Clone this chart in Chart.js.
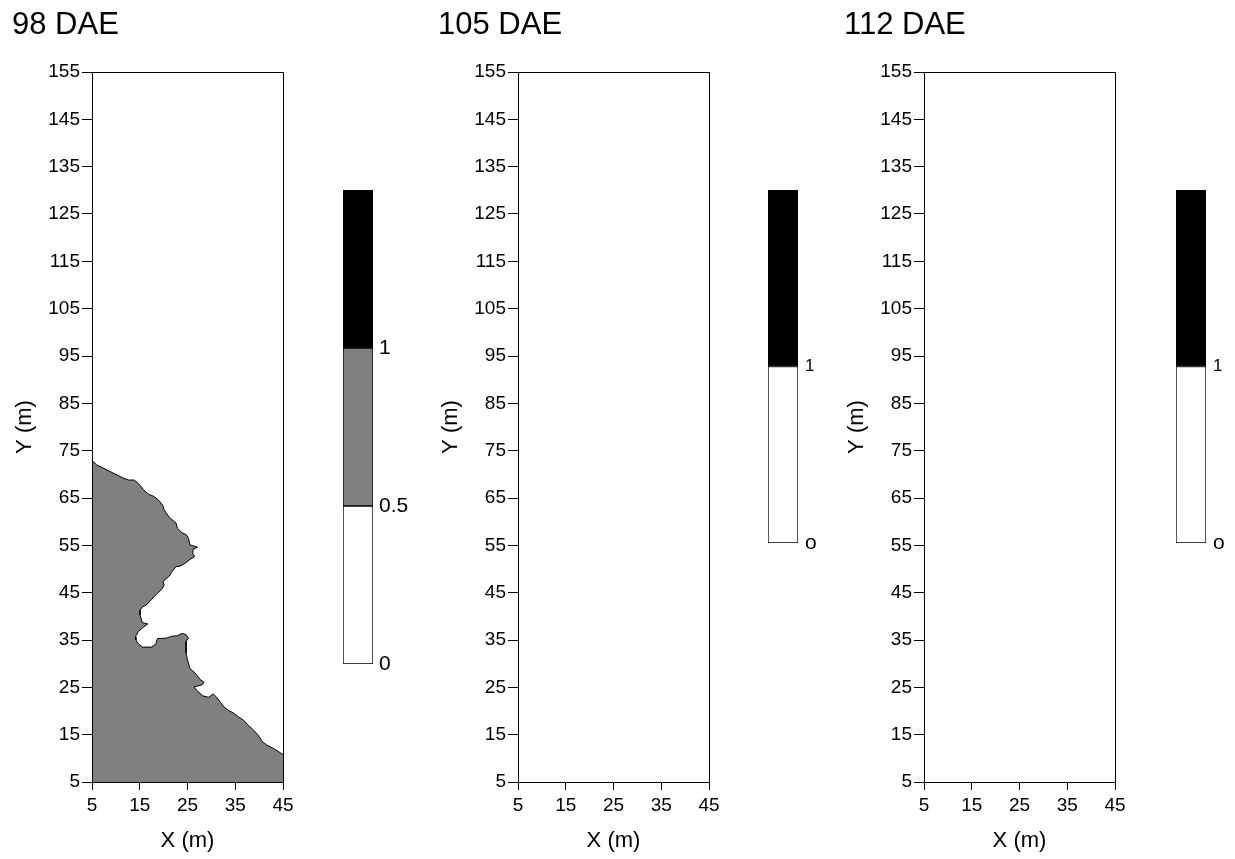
<!DOCTYPE html>
<html>
<head>
<meta charset="utf-8">
<title>DAE maps</title>
<script src="https://cdn.jsdelivr.net/npm/chart.js@4.4.1/dist/chart.umd.min.js"></script>
<style>
  body { margin: 0; background: #fff; width: 1235px; height: 859px; position: relative; overflow: hidden; }
  .box { position: absolute; }
</style>
</head>
<body>
<div class="box" style="left:0px;top:0px"><canvas id="map98" width="300" height="859"></canvas></div>
<div class="box" style="left:426px;top:0px"><canvas id="map105" width="300" height="859"></canvas></div>
<div class="box" style="left:832px;top:0px"><canvas id="map112" width="300" height="859"></canvas></div>
<div class="box" style="left:343px;top:165px"><canvas id="bar98" width="75" height="524"></canvas></div>
<div class="box" style="left:768px;top:165px"><canvas id="bar105" width="75" height="403"></canvas></div>
<div class="box" style="left:1176px;top:165px"><canvas id="bar112" width="75" height="403"></canvas></div>
<script>
// panel titles
const panelTitles = ["98 DAE", "105 DAE", "112 DAE"];

// field extent (m)
const xRange = [5, 45];
const yRange = [5, 155];
const tickStep = 10;

// 98 DAE: outline of the 0.5–1 class zone (X, Y in m);
// the last corners sit just outside the field so only the inner edge is stroked
const zoneX = [
  5, 5.98, 11.56, 12.61, 13.8, 14.7, 15.75, 16.8, 17.84, 18.9,
  19.8, 20.1, 21.2, 22.6, 22.9, 23.8, 24.8, 25.2, 25.5, 26.2,
  27.1, 26.2, 26.1, 26.5, 25.5, 24.5, 23.4, 22.6, 21.7, 21.2,
  20.3, 19.9, 20.1, 19.6, 18.5, 17.5, 16.4, 15.6, 15.05, 15.05,
  15.4, 15.5, 16.7, 15.75, 14.7, 14.1, 14.2, 14.7, 15.6, 17.5,
  18.4, 18.7, 20.6, 21.7, 22.9, 23.9, 24.7, 25.2, 24.7, 24.7,
  25.0, 25.5, 26.6, 27.6, 28.5, 28.0, 26.4, 26.9, 28.2, 29.4,
  30.4, 31.1, 31.8, 32.6, 33.6, 34.6, 35.6, 36.7, 37.7, 38.8,
  39.8, 40.7, 41.6, 43.0, 44.4, 45, 46, 46, 4, 4
];
const zoneY = [
  72.9, 72.0, 69.2, 68.8, 68.8, 68.1, 66.8, 65.8, 65.4, 64.6,
  63.5, 62.5, 60.9, 59.7, 58.6, 57.7, 57.2, 56.5, 55.1, 54.9,
  54.6, 54.2, 53.3, 52.6, 52.0, 51.2, 50.6, 50.5, 49.4, 48.5,
  47.8, 47.3, 46.6, 45.7, 44.7, 43.6, 42.4, 42.0, 41.3, 40.3,
  39.2, 38.7, 38.4, 37.7, 36.8, 35.7, 35.0, 34.2, 33.5, 33.5,
  34.2, 35.3, 35.4, 35.8, 35.9, 36.4, 36.1, 35.4, 34.7, 32.2,
  30.8, 29.0, 28.0, 26.7, 26.0, 25.5, 25.1, 24.4, 23.2, 22.9,
  23.6, 22.9, 22.0, 20.9, 20.1, 19.6, 18.8, 18.1, 17.0, 16.0,
  14.9, 13.5, 12.8, 12.1, 11.2, 10.8, 10.4, 4, 4, 73.5
];

// colour scales
const classSpans98 = [0.5, 0.5, 0.5];
const classColors98 = ["#ffffff", "#808080", "#000000"];
const classTicks98 = [0, 0.5, 1];
const classLabels98 = ["0", "0.5", "1"];

const classSpans = [1, 1];
const classColors = ["#ffffff", "#000000"];
const classTicks = [0, 1];
const classLabels = ["o", "1"];

const FONT = "Arial, 'Liberation Sans', sans-serif";
Chart.defaults.font.family = FONT;
Chart.defaults.color = "#000";

// box around the plot, drawn over the filled zone
const framePlugin = {
  id: "frame",
  afterDatasetsDraw(chart) {
    const { ctx, chartArea: a } = chart;
    const snap = (p) => Math.round(p - 0.5) + 0.5;
    const l = snap(a.left), r = snap(a.right), t = snap(a.top), b = snap(a.bottom);
    ctx.save();
    ctx.strokeStyle = "#000";
    ctx.lineWidth = 1;
    ctx.strokeRect(l, t, r - l, b - t);
    ctx.restore();
  }
};

function makeMap(id, title, xs, ys) {
  const points = xs.map((x, i) => ({ x: x, y: ys[i] }));
  new Chart(document.getElementById(id), {
    type: "scatter",
    data: {
      datasets: [{
        data: points,
        showLine: true,
        fill: "shape",
        backgroundColor: "#808080",
        borderColor: "#000",
        borderWidth: 1,
        pointRadius: 0,
        tension: 0,
        clip: 0
      }]
    },
    options: {
      responsive: false,
      animation: false,
      layout: { padding: { left: 12, right: 17, top: 0, bottom: 0 } },
      plugins: {
        legend: { display: false },
        tooltip: { enabled: false },
        title: {
          display: true,
          text: title,
          align: "start",
          color: "#000",
          font: { size: 31, weight: "normal", lineHeight: 1.2 },
          padding: { top: 7, bottom: 27.8 }
        }
      },
      scales: {
        x: {
          type: "linear",
          min: xRange[0],
          max: xRange[1],
          afterFit: (s) => { s.height = 77; },
          ticks: { stepSize: tickStep, padding: 4, font: { size: 19 }, maxRotation: 0 },
          grid: { drawOnChartArea: false, tickLength: 8, color: "#000" },
          border: { color: "#000" },
          title: { display: true, text: "X (m)", font: { size: 22 }, padding: { top: 0, bottom: 5 } }
        },
        y: {
          type: "linear",
          min: yRange[0],
          max: yRange[1],
          afterFit: (s) => { s.width = 80; },
          ticks: { stepSize: tickStep, padding: 2, font: { size: 19 } },
          grid: { drawOnChartArea: false, tickLength: 10, color: "#000" },
          border: { color: "#000" },
          title: { display: true, text: "Y (m)", font: { size: 22 }, padding: { top: 0, bottom: 0 } }
        }
      }
    },
    plugins: [framePlugin]
  });
}

// fontSizes: size of the label at the bottom, then of the others
function makeScale(id, spans, colors, ticks, labels, fontSizes, pad) {
  new Chart(document.getElementById(id), {
    type: "bar",
    data: {
      labels: [""],
      datasets: spans.map((v, i) => ({
        data: [v],
        backgroundColor: colors[i],
        borderColor: "#000",
        borderWidth: 1,
        borderSkipped: false,
        barPercentage: 1,
        categoryPercentage: 1
      }))
    },
    options: {
      responsive: false,
      animation: false,
      layout: { padding: { left: 0, right: 0, top: 25, bottom: 25 } },
      plugins: { legend: { display: false }, tooltip: { enabled: false } },
      scales: {
        x: { stacked: true, display: false },
        y: {
          stacked: true,
          position: "right",
          min: 0,
          max: spans.reduce((a, b) => a + b, 0),
          afterFit: (s) => { s.width = 45; },
          afterBuildTicks: (s) => { s.ticks = ticks.map((v) => ({ value: v })); },
          ticks: {
            padding: pad,
            font: (c) => ({ size: c.tick && c.tick.value === 0 ? fontSizes[0] : fontSizes[1] }),
            callback: (v) => labels[ticks.indexOf(v)]
          },
          grid: { display: false, drawTicks: false, tickLength: 0 },
          border: { display: false }
        }
      }
    }
  });
}

makeMap("map98", panelTitles[0], zoneX, zoneY);
makeMap("map105", panelTitles[1], [], []);
makeMap("map112", panelTitles[2], [], []);

makeScale("bar98", classSpans98, classColors98, classTicks98, classLabels98, [21, 21], 6);
makeScale("bar105", classSpans, classColors, classTicks, classLabels, [21, 17], 7);
makeScale("bar112", classSpans, classColors, classTicks, classLabels, [21, 17], 7);
</script>
</body>
</html>
